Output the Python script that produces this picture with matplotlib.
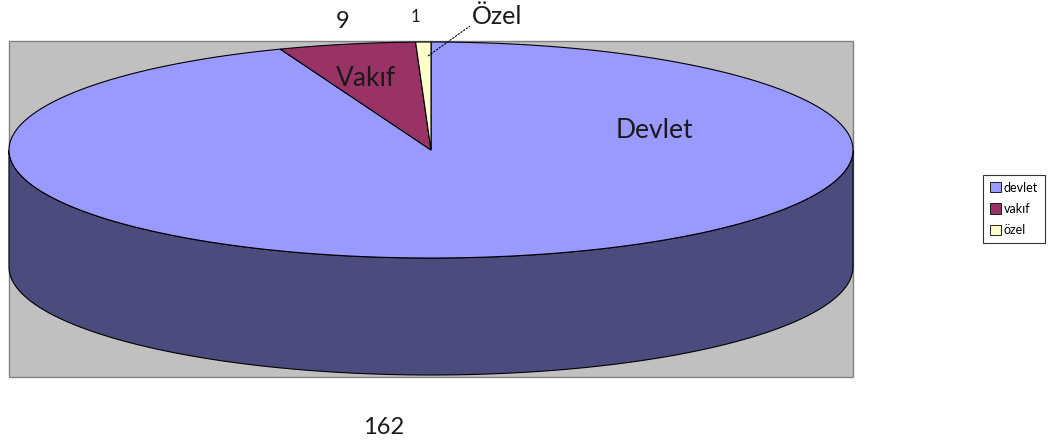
import numpy as np
import matplotlib.pyplot as plt
from matplotlib.patches import Polygon, Rectangle, Patch

# data
categories = ["devlet", "vakıf", "özel"]
values = [162, 9, 1]
inner_labels = ["Devlet", "Vakıf", "Özel"]
colors = ["#9999ff", "#993366", "#ffffcc"]
side_color = "#4b4b7e"

plt.rcParams['font.family'] = ['Lato', 'DejaVu Sans']

fig = plt.figure(figsize=(10.51, 4.41), dpi=100)
ax = fig.add_axes([0, 0, 1, 1])
ax.set_xlim(0, 1051)
ax.set_ylim(441, 0)
ax.axis('off')

# plot area
ax.add_patch(Rectangle((9, 41), 844, 336, facecolor="#c0c0c0", edgecolor="#808080", lw=1))

cx, cy, a, b, depth = 431, 150, 422, 108, 117

def pt(t, dy=0):
    return cx + a * np.cos(t), cy - b * np.sin(t) + dy

# side wall (front half)
t = np.linspace(np.pi, 2 * np.pi, 200)
top = np.column_stack(pt(t))
bot = np.column_stack(pt(t[::-1], depth))
ax.add_patch(Polygon(np.vstack([top, bot]), closed=True, facecolor=side_color,
                     edgecolor="black", lw=0.8))

# top wedges, clockwise from 12 o'clock
total = sum(values)
start = 90.0
for v, c in zip(values, colors):
    sweep = v / total * 360
    tt = np.radians(np.linspace(start, start - sweep, max(int(sweep * 2), 4)))
    arc = np.column_stack(pt(tt))
    poly = np.vstack([[cx, cy], arc])
    ax.add_patch(Polygon(poly, closed=True, facecolor=c, edgecolor="black", lw=0.8))
    start -= sweep

# labels
tc = "#1a1a1a"
ax.text(654, 130, inner_labels[0], fontsize=19, ha="center", va="center", color=tc)
ax.text(366, 78, inner_labels[1], fontsize=19, ha="center", va="center", color=tc)
ax.text(497, 17, inner_labels[2], fontsize=18, ha="center", va="center", color=tc)
ax.plot([428, 470], [56, 26], color="black", lw=0.8, ls=(0, (2, 1)))
ax.text(343, 22, str(values[1]), fontsize=17, ha="center", va="center", color=tc)
ax.text(415, 17, str(values[2]), fontsize=12, ha="center", va="center", color=tc)
ax.text(384, 427, str(values[0]), fontsize=17, ha="center", va="center", color=tc)

# legend
handles = [Patch(facecolor=c, edgecolor="black", lw=0.6) for c in colors]
leg = fig.legend(handles, categories, loc="center", bbox_to_anchor=(1014 / 1051, 1 - 209 / 441),
                 fontsize=9, frameon=True, fancybox=False, edgecolor="black",
                 handlelength=0.9, handleheight=0.9, handletextpad=0.2,
                 borderpad=0.55, labelspacing=0.75, borderaxespad=0)
leg.get_frame().set_linewidth(0.8)

fig.savefig("out.png", dpi=100)
